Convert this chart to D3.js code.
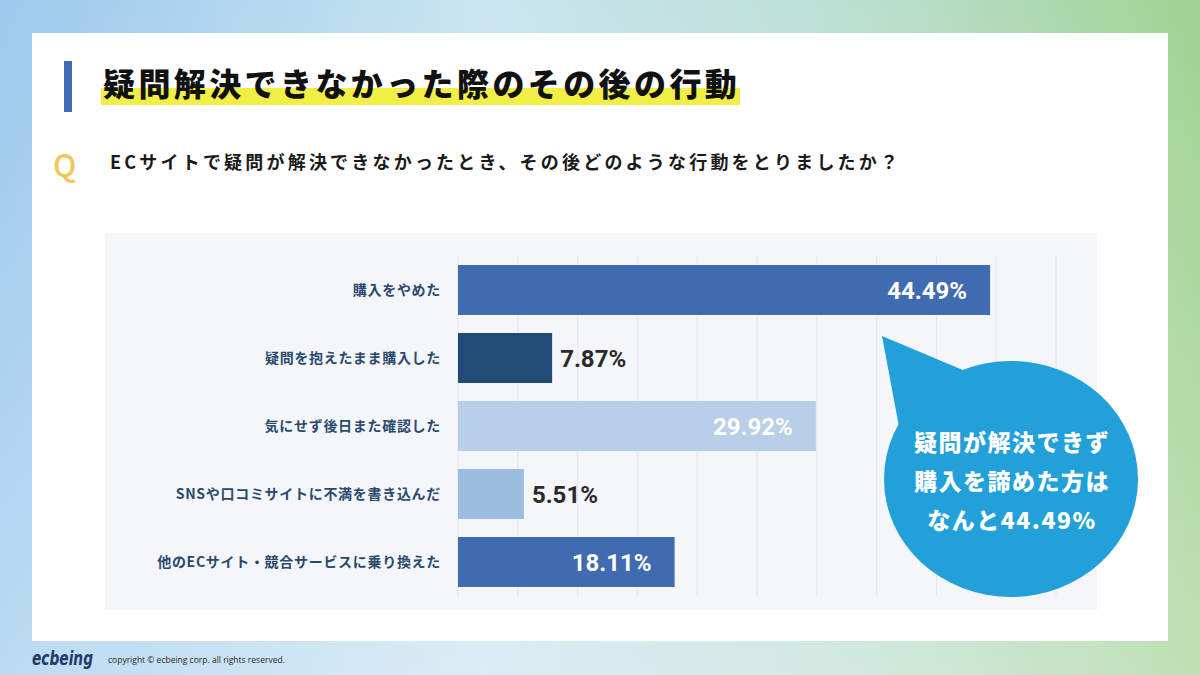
<!DOCTYPE html>
<html>
<head>
<meta charset="utf-8">
<script src="https://cdn.jsdelivr.net/npm/d3@7"></script>
<style>
html,body{margin:0;padding:0;background:#fff;}
svg{display:block;}
</style>
</head>
<body>
<svg id="chart" width="1200" height="675"></svg>
<script>
const categories = ["購入をやめた","疑問を抱えたまま購入した","気にせず後日また確認した","SNSや口コミサイトに不満を書き込んだ","他のECサイト・競合サービスに乗り換えた"];
const values = [44.49, 7.87, 29.92, 5.51, 18.11];
const barColors = ["#416bb1","#214a77","#b8cfe7","#9cbde0","#416bb1"];
const labelInside = [true,false,true,false,true];
const gridTicks = [0,5,10,15,20,25,30,35,40,45,50];
const titleText = "疑問解決できなかった際のその後の行動";
const questionText = "ECサイトで疑問が解決できなかったとき、その後どのような行動をとりましたか？";
const calloutLines = ["疑問が解決できず","購入を諦めた方は","なんと44.49%"];
const copyrightText = "copyright © ecbeing corp. all rights reserved.";

const svg = d3.select("#chart");
const defs = svg.append("defs");
const g1 = defs.append("linearGradient").attr("id","bgH").attr("x1","0").attr("x2","1").attr("y1","0").attr("y2","0");
[["0","#8fc2ea"],["0.4","#c2e1ef"],["0.72","#b3dbcb"],["1","#95cc83"]].forEach(d=>g1.append("stop").attr("offset",d[0]).attr("stop-color",d[1]));
const g2 = defs.append("linearGradient").attr("id","bgV").attr("x1","0").attr("x2","0").attr("y1","0").attr("y2","1");
[["0","#ffffff",0.12],["1","#ffffff",0.4]].forEach(d=>g2.append("stop").attr("offset",d[0]).attr("stop-color",d[1]).attr("stop-opacity",d[2]));

svg.append("rect").attr("width",1200).attr("height",675).attr("fill","url(#bgH)");
svg.append("rect").attr("width",1200).attr("height",675).attr("fill","url(#bgV)");

// white panel
svg.append("rect").attr("x",32).attr("y",33).attr("width",1136).attr("height",608).attr("fill","#ffffff");

// title accent
svg.append("rect").attr("x",64).attr("y",61).attr("width",8).attr("height",51).attr("fill","#3f6cb5");
svg.append("rect").attr("x",101).attr("y",88).attr("width",639).attr("height",17).attr("fill","#f1ee45");
svg.append("text").attr("x",103).attr("y",82).attr("dominant-baseline","central")
  .attr("font-family","'Noto Sans CJK JP'").attr("font-weight",900).attr("font-size",32)
  .attr("letter-spacing",3.4).attr("fill","#111").text(titleText);

// Q
svg.append("text").attr("x",53).attr("y",163).attr("dominant-baseline","central")
  .attr("font-family","'Noto Sans CJK JP'").attr("font-weight",500).attr("font-size",31)
  .attr("fill","#f2c75a").text("Q");
svg.append("text").attr("x",110).attr("y",161).attr("dominant-baseline","central")
  .attr("font-family","'Noto Sans CJK JP'").attr("font-weight",700).attr("font-size",18)
  .attr("letter-spacing",3.2).attr("fill","#1a1a1a").text(questionText);

// chart panel
svg.append("rect").attr("x",105).attr("y",233).attr("width",992).attr("height",377).attr("fill","#f4f6f9");

const x = d3.scaleLinear().domain([0,50]).range([458,1056]);
const y = d3.scaleBand().domain(categories).range([256,596]).paddingInner(0.265).paddingOuter(0.1325);

// grid
svg.append("g").selectAll("line").data(gridTicks).join("line")
  .attr("x1",d=>x(d)).attr("x2",d=>x(d)).attr("y1",256).attr("y2",596)
  .attr("stroke","#e4e7ec").attr("stroke-width",1);

// bars
svg.append("g").selectAll("rect").data(values).join("rect")
  .attr("x",x(0)).attr("y",(d,i)=>y(categories[i]))
  .attr("width",d=>x(d)-x(0)).attr("height",y.bandwidth())
  .attr("fill",(d,i)=>barColors[i]);

// category labels via axis
const yAxis = d3.axisLeft(y).tickSize(0).tickPadding(0);
const ag = svg.append("g").attr("transform","translate(441,0)").call(yAxis);
ag.select(".domain").remove();
ag.selectAll("text").attr("font-family","'Noto Sans CJK JP'").attr("font-weight",700)
  .attr("font-size",14).attr("letter-spacing",0.7).attr("fill","#2b496c").attr("dy","0.35em");

// value labels
svg.append("g").selectAll("text").data(values).join("text")
  .attr("x",(d,i)=>labelInside[i] ? x(d)-23 : x(d)+8)
  .attr("y",(d,i)=>y(categories[i])+y.bandwidth()/2+1)
  .attr("dominant-baseline","central")
  .attr("text-anchor",(d,i)=>labelInside[i]?"end":"start")
  .attr("font-family","Roboto").attr("font-weight",700).attr("font-size",24)
  .attr("fill",(d,i)=>labelInside[i]?"#ffffff":"#2a2a2a")
  .text(d=>d.toFixed(2)+"%");

// callout
const cx = 1011, cy = 479, rx = 127, ry = 118;
const cg = svg.append("g");
cg.append("path").attr("d",`M882,336 L970,373 L900,432 Z`).attr("fill","#22a0d9");
cg.append("ellipse").attr("cx",cx).attr("cy",cy).attr("rx",rx).attr("ry",ry).attr("fill","#22a0d9");
cg.selectAll("text").data(calloutLines).join("text")
  .attr("x",cx+1).attr("y",(d,i)=>441+i*39).attr("dominant-baseline","central")
  .attr("text-anchor","middle").attr("font-family","'Noto Sans CJK JP'").attr("font-weight",900)
  .attr("font-size",23).attr("letter-spacing",1.5).attr("fill","#ffffff").text(d=>d);

// footer
svg.append("text").attr("x",32).attr("y",665).attr("font-family","'DejaVu Sans'").attr("font-style","italic")
  .attr("font-weight",700).attr("font-size",19).attr("textLength",61).attr("lengthAdjust","spacingAndGlyphs")
  .attr("fill","#22396a").text("ecbeing");
svg.append("text").attr("x",108).attr("y",659).attr("dominant-baseline","central").attr("font-family","'Open Sans'")
  .attr("font-size",8.5).attr("fill","#2a2a2a").text(copyrightText);
</script>
</body>
</html>
